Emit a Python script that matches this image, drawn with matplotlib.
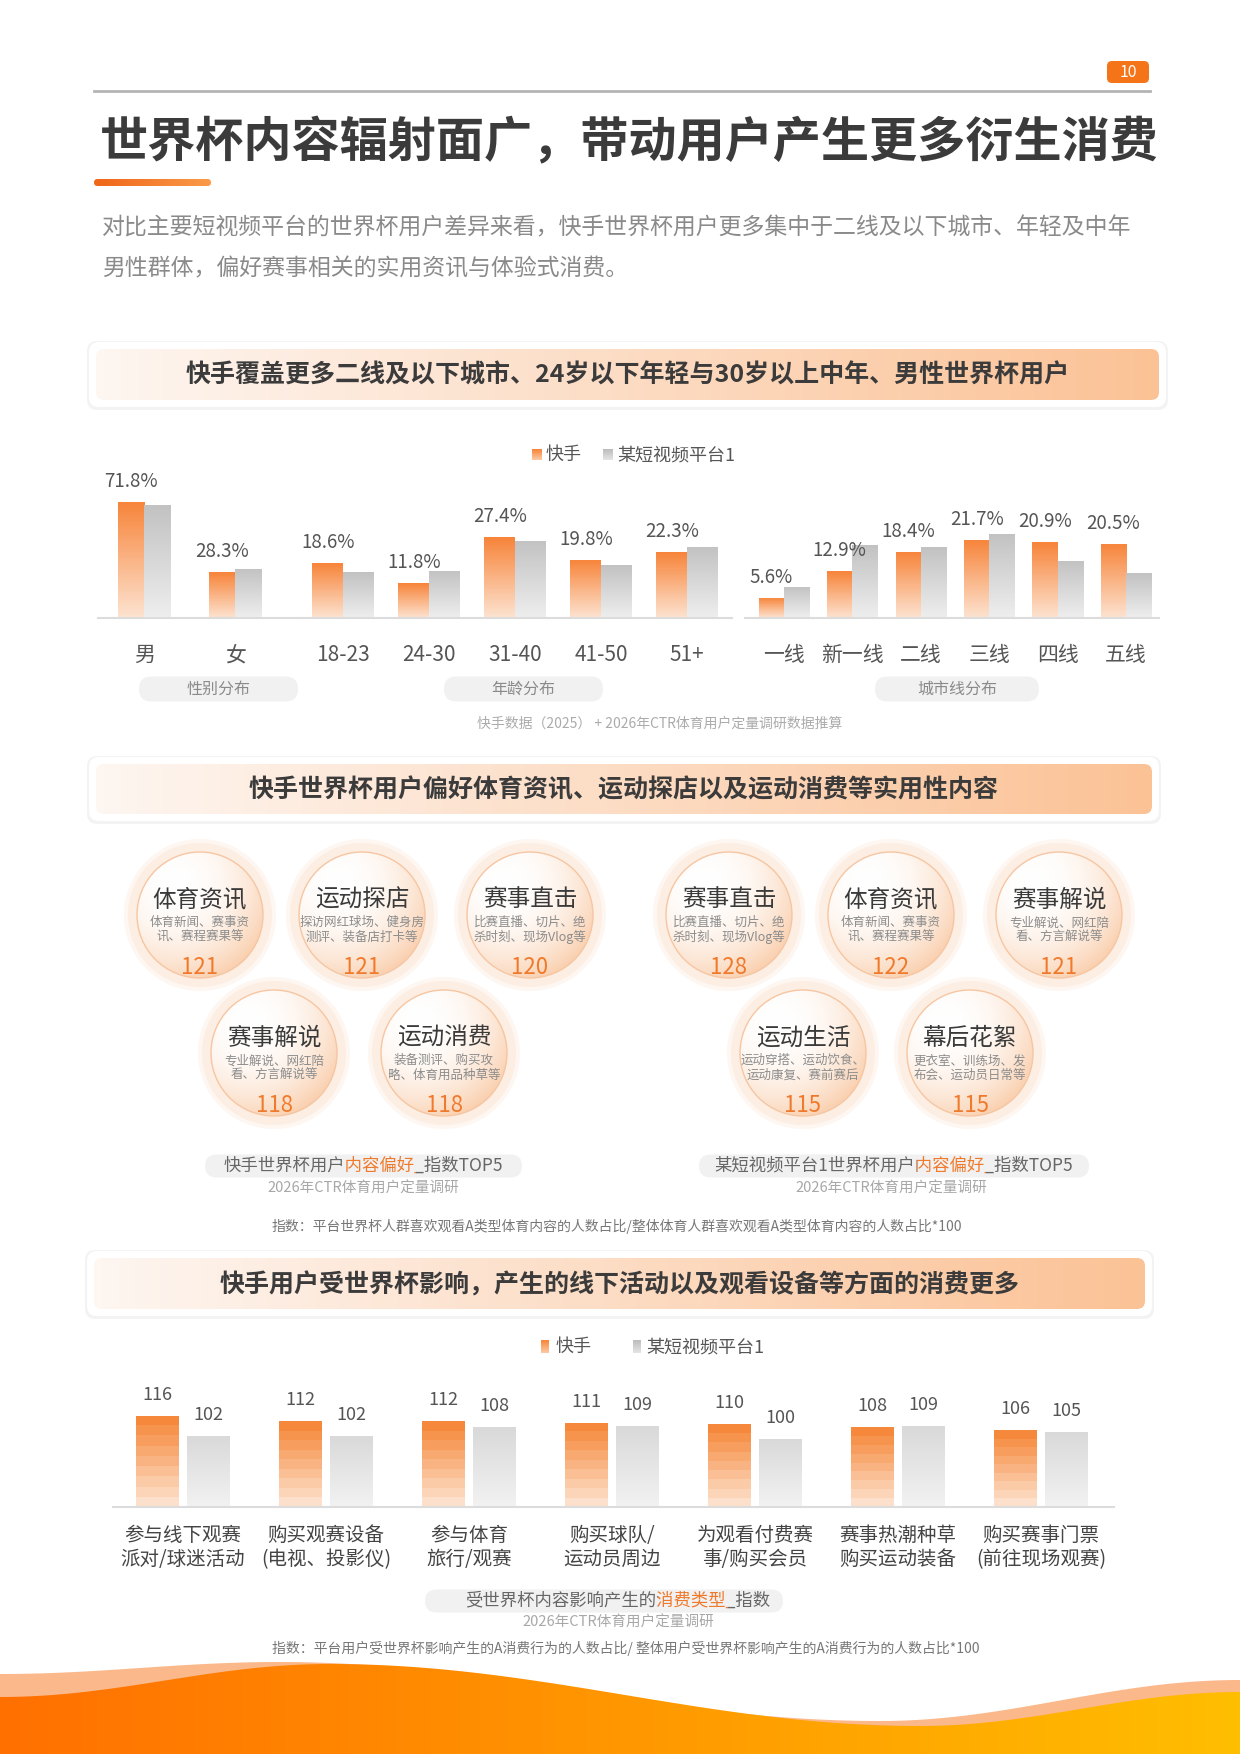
import numpy as np
import matplotlib
matplotlib.use("Agg")
import matplotlib.pyplot as plt
from matplotlib.patches import FancyBboxPatch, Circle, Polygon
from matplotlib.colors import to_rgb
from matplotlib.transforms import Bbox, TransformedBbox

plt.rcParams['font.family'] = ['Noto Sans CJK SC', 'DejaVu Sans']

# ---------------- data ----------------
legend_names = ["快手", "某短视频平台1"]

gender_cats = ["男", "女"]
gender_ks = [71.8, 28.3]
gender_other = [69.6, 30.4]

age_cats = ["18-23", "24-30", "31-40", "41-50", "51+"]
age_ks = [18.6, 11.8, 27.4, 19.8, 22.3]
age_other = [15.6, 16.0, 26.2, 17.9, 24.3]

city_cats = ["一线", "新一线", "二线", "三线", "四线", "五线"]
city_ks = [5.6, 12.9, 18.4, 21.7, 20.9, 20.5]
city_other = [8.7, 20.1, 19.6, 23.3, 15.9, 12.4]

left_topics = ["体育资讯", "运动探店", "赛事直击", "赛事解说", "运动消费"]
left_desc = ["体育新闻、赛事资\n讯、赛程赛果等", "探访网红球场、健身房\n测评、装备店打卡等",
             "比赛直播、切片、绝\n杀时刻、现场Vlog等", "专业解说、网红陪\n看、方言解说等",
             "装备测评、购买攻\n略、体育用品种草等"]
left_index = [121, 121, 120, 118, 118]

right_topics = ["赛事直击", "体育资讯", "赛事解说", "运动生活", "幕后花絮"]
right_desc = ["比赛直播、切片、绝\n杀时刻、现场Vlog等", "体育新闻、赛事资\n讯、赛程赛果等",
              "专业解说、网红陪\n看、方言解说等", "运动穿搭、运动饮食、\n运动康复、赛前赛后",
              "更衣室、训练场、发\n布会、运动员日常等"]
right_index = [128, 122, 121, 115, 115]

spend_cats = ["参与线下观赛\n派对/球迷活动", "购买观赛设备\n(电视、投影仪)", "参与体育\n旅行/观赛",
              "购买球队/\n运动员周边", "为观看付费赛\n事/购买会员", "赛事热潮种草\n购买运动装备",
              "购买赛事门票\n(前往现场观赛)"]
spend_ks = [116, 112, 112, 111, 110, 108, 106]
spend_other = [102, 102, 108, 109, 100, 109, 105]

ORANGE = "#f07a2c"
DARK = "#3b3b3b"
GRAY_T = "#8a8a8a"

W, H = 1240, 1754
fig = plt.figure(figsize=(W / 100, H / 100), dpi=100)
fig.patch.set_facecolor("white")
bg = fig.add_axes([0, 0, 1, 1])
bg.set_xlim(0, W)
bg.set_ylim(H, 0)
bg.axis("off")


def px_axes(x0, y0, x1, y1):
    ax = fig.add_axes([x0 / W, 1 - y1 / H, (x1 - x0) / W, (y1 - y0) / H])
    ax.set_facecolor("none")
    return ax


def grad(c1, c2, n=64, horizontal=False):
    a, b = np.array(to_rgb(c1)), np.array(to_rgb(c2))
    t = np.linspace(0, 1, n)[:, None]
    g = a * (1 - t) + b * t
    return g[None, :, :] if horizontal else g[:, None, :]


def grad_bars(ax, bars, ctop, cbot, steps=64):
    ymin = ax.get_ylim()[0]
    for p in bars:
        x0, w, h = p.get_x(), p.get_width(), p.get_height()
        y0 = max(p.get_y(), ymin)
        im = ax.imshow(grad(ctop, cbot, steps), extent=(x0, x0 + w, y0, p.get_y() + h),
                       origin="upper", aspect="auto", zorder=2, interpolation="nearest")
        im.set_clip_path(p)
        p.set_facecolor("none")
        p.set_edgecolor("none")


def multi_text(xc, y, pre, hi, post, size, base="#666666"):
    # one string drawn several times, each copy clipped to its own span
    r = fig.canvas.get_renderer()
    full = pre + hi + post
    t = bg.text(xc, y, full, fontsize=size, ha="center", va="center")
    left = t.get_window_extent(r).x0
    t.remove()

    def w(s):
        p = bg.text(0, y, s, fontsize=size)
        ww = p.get_window_extent(r).width
        p.remove()
        return ww

    b1 = left + w(pre) + 1.5
    b2 = left + w(pre + hi) + 1.5
    spans = [(0, b1, base), (b1, b2, ORANGE), (b2, W, base)]
    for xa, xb, col in spans:
        tt = bg.text(xc, y, full, fontsize=size, ha="center", va="center", color=col, zorder=6)
        tt.set_clip_box(TransformedBbox(Bbox.from_extents(xa, y - 20, xb, y + 20), bg.transData))
        tt.set_clip_on(True)


def pill(x0, x1, yc, h=24):
    bg.add_patch(FancyBboxPatch((x0, yc - h / 2), x1 - x0, h,
                                boxstyle="round,pad=0,rounding_size=%f" % (h / 2),
                                fc="#f1f1f1", ec="none", zorder=3))


def header(x0, x1, y0, y1, text):
    bg.add_patch(FancyBboxPatch((x0 - 2, y0 - 1), x1 - x0 + 4, y1 - y0 + 4,
                                boxstyle="round,pad=0,rounding_size=10",
                                fc="#efefef", ec="none", alpha=0.7, zorder=1))
    bg.add_patch(FancyBboxPatch((x0, y0), x1 - x0, y1 - y0,
                                boxstyle="round,pad=0,rounding_size=10",
                                fc="white", ec="none", zorder=2))
    band = FancyBboxPatch((x0 + 7, y0 + 7), x1 - x0 - 14, y1 - y0 - 14,
                          boxstyle="round,pad=0,rounding_size=8", fc="none", ec="none", zorder=3)
    bg.add_patch(band)
    im = bg.imshow(grad("#fef6f1", "#fbc296", 128, horizontal=True),
                   extent=(x0 + 7, x1 - 7, y1 - 7, y0 + 7), origin="upper",
                   aspect="auto", zorder=3)
    im.set_clip_path(band)
    bg.text((x0 + x1) / 2, (y0 + y1) / 2 + 1, text, fontsize=18, fontweight="bold",
            color=DARK, ha="center", va="center", zorder=5)


# ---------------- page header ----------------
bg.plot([94, 1150], [91, 91], color="#b4b4b4", lw=2, zorder=2)
bg.add_patch(FancyBboxPatch((1107, 61), 42, 22, boxstyle="round,pad=0,rounding_size=5",
                            fc="#f57418", ec="none", zorder=3))
bg.text(1128, 72.5, "10", color="white", fontsize=11.5, ha="center", va="center", zorder=4)
bg.text(100, 143, "世界杯内容辐射面广，带动用户产生更多衍生消费", fontsize=34.7, fontweight="bold",
        color=DARK, ha="left", va="center")
ul = FancyBboxPatch((94, 179), 117, 7, boxstyle="round,pad=0,rounding_size=3.5",
                    fc="none", ec="none")
bg.add_patch(ul)
im = bg.imshow(grad("#f0661a", "#fa9a4a", 64, horizontal=True), extent=(94, 211, 186, 179),
               origin="upper", aspect="auto", zorder=3)
im.set_clip_path(ul)
bg.text(102, 228, "对比主要短视频平台的世界杯用户差异来看，快手世界杯用户更多集中于二线及以下城市、年轻及中年",
        fontsize=16.5, color=GRAY_T, ha="left", va="center")
bg.text(102, 269, "男性群体，偏好赛事相关的实用资讯与体验式消费。",
        fontsize=16.5, color=GRAY_T, ha="left", va="center")


def legend(y, xs, sq_w, sq_h, size=13):
    cols = [("#f7853a", "#fcc9a3"), ("#bdbdbd", "#e4e4e4")]
    for (sx, tx), name, (c1, c2) in zip(xs, legend_names, cols):
        bg.imshow(grad(c1, c2, 16), extent=(sx, sx + sq_w, y + sq_h / 2, y - sq_h / 2),
                  origin="upper", aspect="auto", zorder=3)
        bg.text(tx, y, name, fontsize=size, color="#555555", ha="left", va="center")


# ---------------- section 1 ----------------
header(89, 1166, 342, 407, "快手覆盖更多二线及以下城市、24岁以下年轻与30岁以上中年、男性世界杯用户")
legend(455, [(532, 546), (603, 617)], 10, 11)

groups = [
    (gender_cats, gender_ks, gender_other, (98, 299), (-0.505, 1.70), 103.7, 0.29),
    (age_cats, age_ks, age_other, (301, 732), (-0.49, 4.52), 57.1, 0.36),
    (city_cats, city_ks, city_other, (745, 1159), (-0.57, 5.48), 46.5, 0.37),
]
for cats, ks, ot, (xa, xb), xl, ymax, bw in groups:
    ax = px_axes(xa, 450, xb, 618)
    x = np.arange(len(cats))
    ax.set_xlim(*xl)
    ax.set_ylim(0, ymax)
    b1 = ax.bar(x - bw / 2, ks, bw, zorder=2)
    b2 = ax.bar(x + bw / 2, ot, bw, zorder=2)
    grad_bars(ax, b1, "#f7843a", "#fde3d0")
    grad_bars(ax, b2, "#c2c2c2", "#eeeeee")
    ax.set_xlim(*xl)
    ax.set_ylim(0, ymax)
    for xi, v in zip(x, ks):
        ax.annotate(f"{v}%", (xi - bw / 2, v), xytext=(0, 10), textcoords="offset pixels",
                    ha="center", va="bottom", fontsize=13.5, color="#555555")
    for s in ["top", "right", "left"]:
        ax.spines[s].set_visible(False)
    ax.spines["bottom"].set_color("#dcdcdc")
    ax.spines["bottom"].set_linewidth(1.5)
    ax.set_yticks([])
    ax.set_xticks(x, cats, fontsize=15, color="#555555")
    ax.tick_params(axis="x", length=0, pad=19)

for (a, b), lab in zip([(139, 298), (444, 603), (875, 1039)], ["性别分布", "年龄分布", "城市线分布"]):
    pill(a, b, 689, 25)
    bg.text((a + b) / 2, 689, lab, fontsize=11.5, color=GRAY_T, ha="center", va="center", zorder=4)
bg.text(660, 724, "快手数据（2025） + 2026年CTR体育用户定量调研数据推算", fontsize=10,
        color="#ababab", ha="center", va="center")

# ---------------- section 2 : bubbles ----------------
header(89, 1159, 757, 821, "快手世界杯用户偏好体育资讯、运动探店以及运动消费等实用性内容")

n = 140
u, v = np.meshgrid(np.linspace(-1, 1, n), np.linspace(-1, 1, n))
d = np.clip(np.sqrt((u + 0.4) ** 2 + (v + 0.5) ** 2) / 1.75, 0, 1) ** 2.2
peach = np.array(to_rgb("#f9c8a2"))
radial = (1 - d)[..., None] * np.ones(3) + d[..., None] * peach


def bubble(cx, cy, topic, desc, val):
    bg.add_patch(Circle((cx, cy), 76, fc="#fef6f1", ec="none", zorder=1.8))
    bg.add_patch(Circle((cx, cy), 72, fc="#fdeee4", ec="none", zorder=1.9))
    inner = Circle((cx, cy), 63, fc="none", ec="#f6c6a2", lw=1.0, zorder=4)
    bg.add_patch(inner)
    im = bg.imshow(radial, extent=(cx - 63, cx + 63, cy + 63, cy - 63), origin="upper",
                   aspect="auto", zorder=3)
    im.set_clip_path(inner)
    bg.text(cx, cy - 15, topic, fontsize=17, color="#3a3a3a", ha="center", va="center", zorder=5)
    bg.text(cx, cy + 15, desc, fontsize=9, color="#8c8c8c", ha="center", va="center",
            linespacing=1.15, zorder=5)
    bg.text(cx, cy + 52, str(val), fontsize=16, color=ORANGE, ha="center", va="center", zorder=5)


left_pos = [(200, 915), (362, 915), (530, 915), (274, 1053), (444, 1053)]
right_pos = [(729, 915), (891, 915), (1059, 915), (803, 1053), (970, 1053)]
for (cx, cy), t, ds, vv in zip(left_pos, left_topics, left_desc, left_index):
    bubble(cx, cy, t, ds, vv)
for (cx, cy), t, ds, vv in zip(right_pos, right_topics, right_desc, right_index):
    bubble(cx, cy, t, ds, vv)

pill(205, 522, 1166, 23)
multi_text(363, 1166, "快手世界杯用户", "内容偏好", "_指数TOP5", 12.5)
pill(699, 1089, 1166, 23)
multi_text(894, 1166, "某短视频平台1世界杯用户", "内容偏好", "_指数TOP5", 12.5)
bg.text(363, 1189, "2026年CTR体育用户定量调研", fontsize=10.5, color="#a8a8a8", ha="center", va="center")
bg.text(891, 1189, "2026年CTR体育用户定量调研", fontsize=10.5, color="#a8a8a8", ha="center", va="center")
bg.text(617, 1226, "指数：平台世界杯人群喜欢观看A类型体育内容的人数占比/整体体育人群喜欢观看A类型体育内容的人数占比*100",
        fontsize=10, color="#777777", ha="center", va="center")

# ---------------- section 3 ----------------
header(87, 1152, 1251, 1316, "快手用户受世界杯影响，产生的线下活动以及观看设备等方面的消费更多")
legend(1347, [(541, 556), (633, 646)], 8, 13)

ax3 = px_axes(113, 1380, 1114, 1507)
x3 = np.arange(len(spend_cats))
ylim3 = (53, 140.6)
xlim3 = (-0.49, 6.51)
ax3.set_xlim(*xlim3)
ax3.set_ylim(*ylim3)
c1 = ax3.bar(x3 - 0.177, spend_ks, 0.30, zorder=2)
c2 = ax3.bar(x3 + 0.177, spend_other, 0.30, zorder=2)
grad_bars(ax3, c1, "#f5883a", "#fde0cb", steps=9)
grad_bars(ax3, c2, "#d9d9d9", "#f2f2f2")
ax3.set_xlim(*xlim3)
ax3.set_ylim(*ylim3)
for xi, v in zip(x3, spend_ks):
    ax3.annotate(str(v), (xi - 0.177, v), xytext=(0, 12), textcoords="offset pixels",
                 ha="center", va="bottom", fontsize=13, color="#555555")
for xi, v in zip(x3, spend_other):
    ax3.annotate(str(v), (xi + 0.177, v), xytext=(0, 12), textcoords="offset pixels",
                 ha="center", va="bottom", fontsize=13, color="#555555")
for s in ["top", "right", "left"]:
    ax3.spines[s].set_visible(False)
ax3.spines["bottom"].set_color("#dcdcdc")
ax3.spines["bottom"].set_linewidth(1.5)
ax3.set_yticks([])
ax3.set_xticks(x3, spend_cats, fontsize=14, color="#444444", linespacing=1.2)
ax3.tick_params(axis="x", length=0, pad=13)

pill(425, 783, 1601, 23)
multi_text(618, 1601, "受世界杯内容影响产生的", "消费类型", "_指数", 12.5)
bg.text(618, 1623, "2026年CTR体育用户定量调研", fontsize=10.5, color="#a8a8a8", ha="center", va="center")
bg.text(626, 1648, "指数：平台用户受世界杯影响产生的A消费行为的人数占比/ 整体用户受世界杯影响产生的A消费行为的人数占比*100",
        fontsize=10, color="#777777", ha="center", va="center")


# ---------------- bottom wave ----------------
def wave(keys, n=300):
    xs = np.linspace(0, W, n)
    kx = np.array([k[0] for k in keys], float)
    ky = np.array([k[1] for k in keys], float)
    ys = np.empty_like(xs)
    for i, xv in enumerate(xs):
        j = min(np.searchsorted(kx, xv, side="right") - 1, len(kx) - 2)
        t = (xv - kx[j]) / (kx[j + 1] - kx[j])
        t = (1 - np.cos(np.pi * t)) / 2
        ys[i] = ky[j] * (1 - t) + ky[j + 1] * t
    return xs, ys


xs, ys = wave([(0, 1674), (280, 1662), (880, 1721), (1240, 1680)])
light = Polygon(np.column_stack([np.r_[xs, W, 0], np.r_[ys, H, H]]), fc="#fbb88a", ec="none", zorder=2)
bg.add_patch(light)
xs2, ys2 = wave([(0, 1697), (330, 1664), (920, 1726), (1240, 1692)])
main = Polygon(np.column_stack([np.r_[xs2, W, 0], np.r_[ys2, H, H]]), fc="none", ec="none", zorder=3)
bg.add_patch(main)
im = bg.imshow(grad("#ff7000", "#ffbe00", 256, horizontal=True), extent=(0, W, H, 1655),
               origin="upper", aspect="auto", zorder=3)
im.set_clip_path(main)

bg.set_xlim(0, W)
bg.set_ylim(H, 0)
fig.savefig("out.png", dpi=100)
